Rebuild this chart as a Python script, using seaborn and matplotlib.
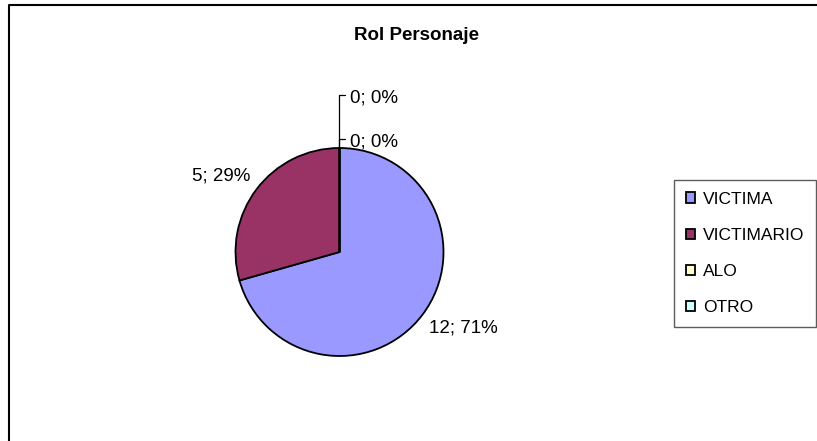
import numpy as np
import matplotlib
matplotlib.use("Agg")
import matplotlib.pyplot as plt
import seaborn as sns

# datos del grafico
categorias = ["VICTIMA", "VICTIMARIO", "ALO", "OTRO"]
valores = [12, 5, 0, 0]
colores = ["#9999FF", "#993366", "#FFFFCC", "#CCFFFF"]
titulo = "Rol Personaje"

sns.set_theme(style="white")
plt.rcParams["font.family"] = ["Liberation Sans", "DejaVu Sans"]
plt.rcParams["text.color"] = "black"

W, H = 817, 441
fig = plt.figure(figsize=(W / 100, H / 100), dpi=100)
ax = fig.add_axes([0, 0, 1, 1])

# centro y radio del pie en pixeles
cx, cy, R = 339.5, 252, 104
px = 1 / R

wedges, _ = ax.pie(valores, colors=colores, startangle=90, counterclock=False,
                   wedgeprops=dict(edgecolor="black", linewidth=1.3))
ax.set_aspect("auto")
ax.set_xlim(-cx / R, (W - cx) / R)
ax.set_ylim(-(H - cy) / R, cy / R)
ax.axis("off")

total = sum(valores)
k = 0
for w, v in zip(wedges, valores):
    txt = f"{v}; {round(100 * v / total)}%"
    ang = np.deg2rad((w.theta1 + w.theta2) / 2)
    if v > 0:
        d = 1.075
        x, y = d * np.cos(ang), d * np.sin(ang)
        ha = "left" if np.cos(ang) > 0 else "right"
        va = "top" if np.sin(ang) < 0 else "bottom"
        ax.text(x, y, txt, ha=ha, va=va, fontsize=13.5)
    else:
        # etiquetas apiladas con linea guia
        ty = 1.0 + (6 + 44 * k) * px
        ax.text(np.cos(ang) + 10.5 * px, ty, txt, ha="left", va="center", fontsize=13.5)
        ax.plot([0, 0, 6 * px], [1.0, ty + 3 * px, ty + 3 * px], color="black", lw=0.9)
        k += 1

# borde del area del grafico
fig.add_artist(plt.Line2D([9 / W, 9 / W, 1], [0, 1 - 5 / H, 1 - 5 / H],
                          transform=fig.transFigure, color="black", lw=1.5))

fig.text(417 / W, 1 - 35 / H, titulo, ha="center", va="center",
         fontsize=13.5, fontweight="bold")

leg = fig.legend(wedges, categorias, loc="upper left",
                 bbox_to_anchor=(674 / W, 1 - 180 / H), fontsize=12.5,
                 frameon=True, fancybox=False, handlelength=0.55, handleheight=0.55,
                 handletextpad=0.45, labelspacing=1.22, borderpad=0.68, borderaxespad=0)
leg.get_frame().set_edgecolor("#333333")
leg.get_frame().set_linewidth(1.0)
for t in leg.get_texts():
    t.set_color("black")

fig.savefig("out.png", dpi=100)
